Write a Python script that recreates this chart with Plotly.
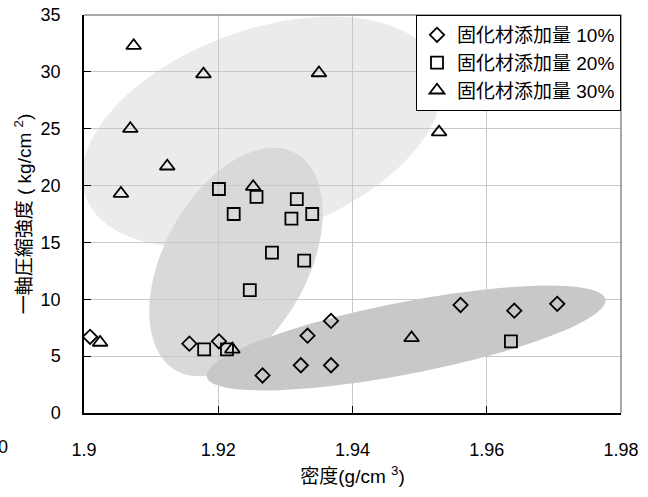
import math
import plotly.graph_objects as go

# ---- data ----
series_names = ["固化材添加量 10%", "固化材添加量 20%", "固化材添加量 30%"]

density_10 = [1.9009, 1.9157, 1.9201, 1.9266, 1.9323, 1.9333, 1.9368, 1.9368, 1.9561, 1.9641, 1.9705]
strength_10 = [6.7, 6.1, 6.3, 3.3, 4.2, 6.8, 8.1, 4.2, 9.5, 9.0, 9.6]

density_20 = [1.9201, 1.9257, 1.9317, 1.9223, 1.9309, 1.9340, 1.9280, 1.9328, 1.9247, 1.9179, 1.9213, 1.9636]
strength_20 = [19.7, 19.0, 18.8, 17.5, 17.1, 17.5, 14.1, 13.4, 10.8, 5.6, 5.6, 6.3]

density_30 = [1.9074, 1.9178, 1.9350, 1.9069, 1.9124, 1.9055, 1.9252, 1.9024, 1.9221, 1.9529, 1.9488]
strength_30 = [32.3, 29.8, 29.9, 25.0, 21.7, 19.3, 19.9, 6.2, 5.6, 24.7, 6.6]

x_ticks = [1.9, 1.92, 1.94, 1.96, 1.98]
x_tick_labels = ["1.9", "1.92", "1.94", "1.96", "1.98"]
y_ticks = [0, 5, 10, 15, 20, 25, 30, 35]

symbols = ["diamond-open", "square-open", "triangle-up-open"]
sizes = [11, 12, 13]

# ---- figure ----
W, H = 648, 497
ML, MR, MT, MB = 84, 27, 15, 84
PW, PH = W - ML - MR, H - MT - MB

fig = go.Figure()
for name, xs, ys, sym, sz in zip(series_names, [density_10, density_20, density_30],
                                 [strength_10, strength_20, strength_30], symbols, sizes):
    fig.add_trace(go.Scatter(
        x=xs, y=ys, mode="markers", name=name,
        marker=dict(symbol=sym, size=sz, color="black", line=dict(color="black", width=1.8)),
    ))


def ellipse_path(cx, cy, a, b, ang_deg, n=120):
    """cx, cy, a, b in pixels (screen, y down); returns SVG path in paper coords"""
    t = math.radians(ang_deg)
    pts = []
    for i in range(n):
        u = 2 * math.pi * i / n
        px = cx + a * math.cos(u) * math.cos(t) - b * math.sin(u) * math.sin(t)
        py = cy + a * math.cos(u) * math.sin(t) + b * math.sin(u) * math.cos(t)
        pts.append(((px - ML) / PW, (MT + PH - py) / PH))
    return "M " + " L ".join(f"{x:.5f},{y:.5f}" for x, y in pts) + " Z"


groups = [
    (262, 132, 188, 102, -20, "#ebebeb"),
    (236, 262, 124, 72, -61.4, "#d9d9d9"),
    (406, 338, 203, 36, -11, "#c8c8c8"),
]
shapes = []
for cx, cy, a, b, ang, col in groups:
    shapes.append(dict(type="path", xref="paper", yref="paper", path=ellipse_path(cx, cy, a, b, ang),
                       fillcolor=col, line=dict(width=0), layer="below"))
# top / right frame
shapes.append(dict(type="path", xref="paper", yref="paper", path="M 0,1 L 1,1 L 1,0",
                   line=dict(color="#8c8c8c", width=1.5), layer="above"))

font_family = "Liberation Sans, Arial, Noto Sans CJK JP, sans-serif"
cjk_family = "Liberation Sans, Noto Sans CJK JP, sans-serif"

fig.update_layout(
    width=W, height=H,
    margin=dict(l=ML, r=MR, t=MT, b=MB, autoexpand=False),
    paper_bgcolor="white", plot_bgcolor="white",
    font=dict(family=font_family, size=18, color="black"),
    shapes=shapes,
    showlegend=True,
    legend=dict(x=1, y=1, xanchor="right", yanchor="top", bgcolor="white",
                bordercolor="black", borderwidth=1,
                font=dict(family=cjk_family, size=19),
                tracegroupgap=0),
    annotations=[dict(text="0", xref="paper", yref="paper", x=-ML / PW + 10 / PW, y=-34 / PH,
                      xanchor="right", yanchor="middle", showarrow=False,
                      font=dict(size=18, family=font_family))],
)
fig.update_xaxes(
    range=[1.9, 1.98], tickvals=x_ticks, ticktext=x_tick_labels,
    showgrid=True, gridcolor="#c8c8c8", gridwidth=1, zeroline=False,
    showline=True, linecolor="black", linewidth=1.5,
    ticks="inside", ticklen=7, tickcolor="black", tickwidth=1.2,
    ticklabelstandoff=20,
    title=dict(text="密度(g/cm <sup>3</sup>)", standoff=10,
               font=dict(family=cjk_family, size=19)),
)
fig.update_yaxes(
    range=[0, 35], tickvals=y_ticks,
    showgrid=True, gridcolor="#c8c8c8", gridwidth=1, zeroline=False,
    showline=True, linecolor="black", linewidth=1.5,
    ticks="inside", ticklen=7, tickcolor="black", tickwidth=1.2,
    ticklabelstandoff=18,
    title=dict(text="一軸圧縮強度 ( kg/cm <sup>2</sup>)", standoff=4,
               font=dict(family=cjk_family, size=19)),
)

fig.write_html("out.html", config={"displayModeBar": False},
               post_script="document.body.style.margin='0';")
